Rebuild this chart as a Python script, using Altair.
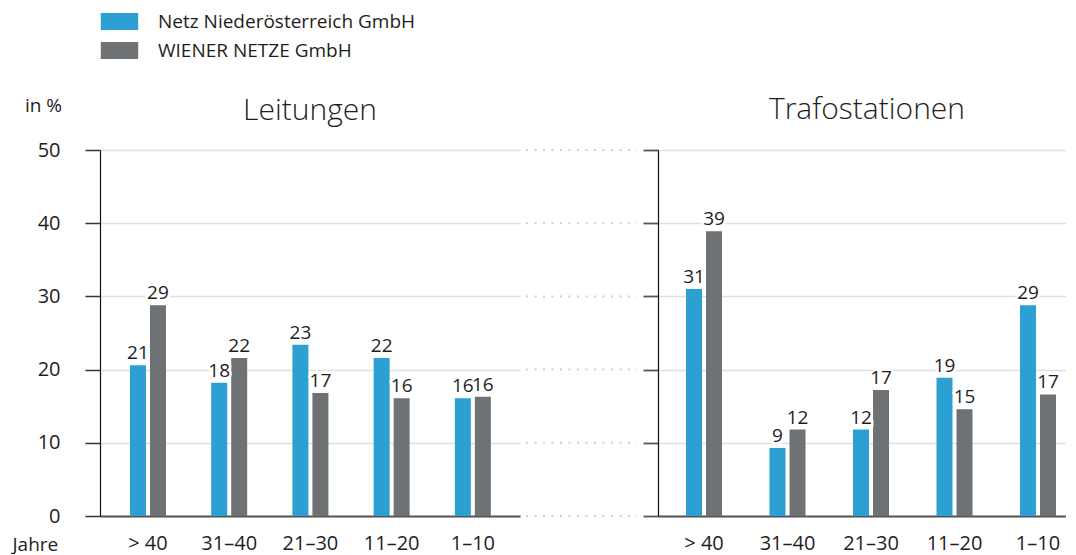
import altair as alt
import pandas as pd

categories = ["> 40", "31–40", "21–30", "11–20", "1–10"]
series = ["Netz Niederösterreich GmbH", "WIENER NETZE GmbH"]
colors = ["#2ca0d2", "#6e7275"]

leitungen_noe = [20.6, 18.2, 23.4, 21.6, 16.1]
leitungen_wn = [28.8, 21.6, 16.8, 16.1, 16.3]
trafo_noe = [31.0, 9.3, 11.8, 18.9, 28.8]
trafo_wn = [38.9, 11.8, 17.2, 14.6, 16.6]
y_ticks = [0, 10, 20, 30, 40, 50]
unit_label = ["in %"]

FONT = "Open Sans"
TXT = "#1e1e1e"
LBL = 20
VAL = 19


def make_df(a, b):
    rows = []
    for c, va, vb in zip(categories, a, b):
        rows.append({"cat": c, "series": series[0], "value": va})
        rows.append({"cat": c, "series": series[1], "value": vb})
    return pd.DataFrame(rows)


color_enc = alt.Color(
    "series:N",
    sort=series,
    scale=alt.Scale(domain=series, range=colors),
    legend=alt.Legend(
        title=None,
        orient="none",
        legendX=10,
        legendY=-138,
        direction="vertical",
        symbolType="M-2.2,-1L2.2,-1L2.2,1L-2.2,1Z",
        symbolSize=289,
        symbolStrokeWidth=0,
        labelOffset=29,
        labelFontSize=19,
        labelFont=FONT,
        labelColor=TXT,
        labelLimit=600,
        rowPadding=9,
        padding=0,
    ),
)


def panel(df, title, width, pin, pout, align, left, toff, tdx):
    if left:
        xaxis = alt.Axis(
            title="Jahre", titleX=-88, titleY=28, titleAlign="left", titleBaseline="middle",
            titleFontSize=19, titleFontWeight="normal", titleFont=FONT, titleColor=TXT,
            labelFontSize=LBL, labelFont=FONT, labelColor=TXT, labelPadding=17,
            ticks=False, tickSize=0, domainColor="#555", domainWidth=2, labelAngle=0,
        )
        yaxis = alt.Axis(
            title=None,
            values=y_ticks, labelFontSize=LBL, labelFont=FONT, labelColor=TXT,
            labelPadding=25, tickSize=15, tickColor="#333", tickWidth=1.5,
            domainColor="#111", domainWidth=1.2,
            gridColor="#e0e0e0", gridWidth=1.5,
        )
    else:
        xaxis = alt.Axis(
            title=None, labelFontSize=LBL, labelFont=FONT, labelColor=TXT, labelPadding=17,
            ticks=False, tickSize=0, domainColor="#555", domainWidth=2, labelAngle=0,
        )
        yaxis = alt.Axis(
            title=None, values=y_ticks, labels=False, tickSize=15, tickColor="#555",
            tickWidth=1.8, domainColor="#111", domainWidth=1.2,
            gridColor="#e0e0e0", gridWidth=1.5,
        )
    x = alt.X("cat:N", sort=categories,
              scale=alt.Scale(paddingInner=pin, paddingOuter=pout, align=align), axis=xaxis)
    xo = alt.XOffset("series:N", sort=series, scale=alt.Scale(paddingInner=0.2, paddingOuter=0))
    y = alt.Y("value:Q", scale=alt.Scale(domain=[0, 50]), axis=yaxis)
    base = alt.Chart(df)
    bars = base.mark_bar().encode(x=x, xOffset=xo, y=y, color=color_enc)
    halo = base.mark_text(baseline="bottom", dy=-2, fontSize=VAL, font=FONT,
                          stroke="white", strokeWidth=5, fill="white").encode(
        x=x, xOffset=xo, y=y, text=alt.Text("value:Q", format=".0f"))
    labels = base.mark_text(baseline="bottom", dy=-2, fontSize=VAL, font=FONT, color=TXT).encode(
        x=x, xOffset=xo, y=y, text=alt.Text("value:Q", format=".0f"))
    layers = [bars, halo, labels]
    if left:
        unit = alt.Chart(pd.DataFrame({"t": unit_label})).mark_text(
            align="right", baseline="middle", fontSize=19, font=FONT, color=TXT
        ).encode(text="t:N", x=alt.value(-38), y=alt.value(-44))
        dots = alt.Chart(pd.DataFrame({"v": y_ticks})).mark_rule(
            color="#cfcfcf", strokeWidth=2, strokeDash=[2, 6.5]
        ).encode(
            y=alt.Y("v:Q", scale=alt.Scale(domain=[0, 50])),
            x=alt.value(width + 6),
            x2=alt.value(width + 117),
        )
        layers = [dots] + layers + [unit]
    return alt.layer(*layers).properties(
        width=width, height=366,
        view=alt.ViewBackground(strokeWidth=0, strokeOpacity=0),
        title=alt.TitleParams(title, fontSize=30, fontWeight=300, font=FONT, color=TXT,
                              anchor="middle", offset=toff, dx=tdx),
    )


left = panel(make_df(leitungen_noe, leitungen_wn), "Leitungen", 420,
             0.5567, 0.364, 0.507, True, -29, 0)
right = panel(make_df(trafo_noe, trafo_wn), "Trafostationen", 408,
              0.5689, 0.2276, 0.737, False, 24, 5)

chart = alt.hconcat(left, right, spacing=138, bounds="flush").properties(
    padding={"left": 4, "top": 4, "right": 0, "bottom": 0}
).configure_view(strokeWidth=0, strokeOpacity=0).configure(font=FONT)

chart.save("out.html", embed_options={"renderer": "svg", "actions": False})
